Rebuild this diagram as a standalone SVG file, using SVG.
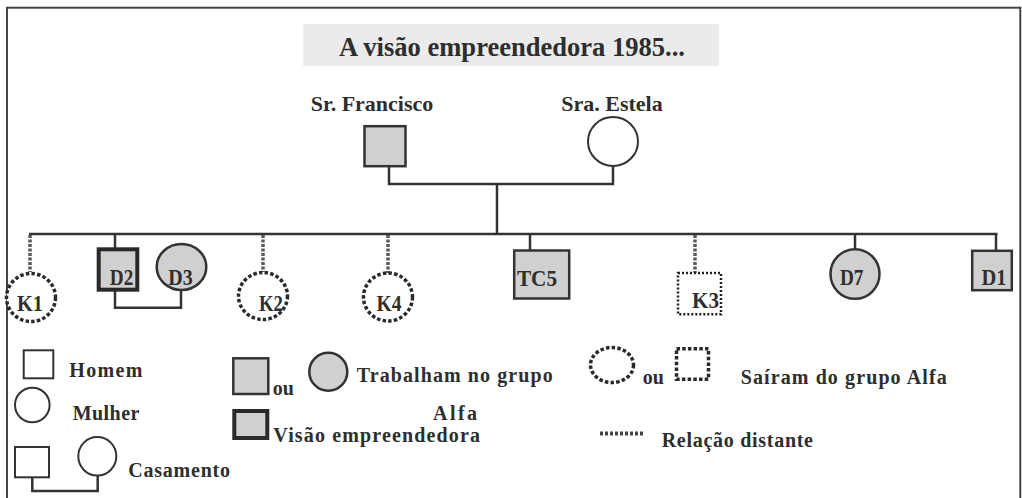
<svg xmlns="http://www.w3.org/2000/svg" width="1022" height="498" viewBox="0 0 1022 498">
<style>
.t{font-family:"Liberation Serif","Times New Roman",serif;font-weight:bold;fill:#2e2e2e}
.lbl{font-size:23px;text-anchor:middle}
.leg{font-size:20px}
.name{font-size:22px;text-anchor:middle}
.g{fill:#d0d0d0;stroke:#333;stroke-width:2.5}
.w{fill:#fff;stroke:#333;stroke-width:2}
.thick{fill:#d0d0d0;stroke:#2a2a2a;stroke-width:4}
.dc{fill:#fff;stroke:#2a2a2a;stroke-width:3.5;stroke-dasharray:3.5 2.2}
.ds{fill:#fff;stroke:#222;stroke-width:2.5;stroke-dasharray:2 2}
.ln{fill:none;stroke:#333;stroke-width:2.5}
.dl{fill:none;stroke:#5a5a5a;stroke-width:3.5;stroke-dasharray:3 1.5}
</style>
<rect x="7" y="7.7" width="1013.3" height="510" fill="#fff" stroke="#444" stroke-width="2"/>
<g id="title">
<rect x="303" y="24" width="416" height="42" fill="#ebebeb"/>
<text class="t" x="512" y="56" font-size="27" text-anchor="middle" textLength="346" lengthAdjust="spacingAndGlyphs">A visão empreendedora 1985...</text>
</g>
<g id="connectors">
<polyline class="ln" points="389,167 389,184 613,184 613,166"/>
<line class="ln" x1="497" y1="184" x2="497" y2="234"/>
<line class="ln" x1="29" y1="234" x2="997.5" y2="234"/>
<line class="dl" x1="30" y1="235" x2="30" y2="272"/>
<line class="ln" x1="115" y1="234" x2="115" y2="248"/>
<line class="dl" x1="263" y1="235" x2="263" y2="272"/>
<line class="dl" x1="388" y1="235" x2="388" y2="273"/>
<line class="ln" x1="530" y1="234" x2="530" y2="250"/>
<line class="dl" x1="695" y1="235" x2="695" y2="273"/>
<line class="ln" x1="855" y1="234" x2="855" y2="249"/>
<line class="ln" x1="996" y1="234" x2="996" y2="250"/>
<polyline class="ln" points="115,291 115,307.7 181,307.7 181,290"/>
</g>
<g id="francisco">
<text class="t name" x="372" y="110.7">Sr. Francisco</text>
<rect class="g" x="364.5" y="126.2" width="41" height="40"/>
</g>
<g id="estela">
<text class="t name" x="612" y="110.7">Sra. Estela</text>
<ellipse class="w" cx="613" cy="141.5" rx="25" ry="24.5" stroke-width="2.5"/>
</g>
<g id="K1">
<ellipse class="dc" cx="31" cy="297.5" rx="24.5" ry="24"/>
<text class="t lbl" x="30" y="311" textLength="26" lengthAdjust="spacingAndGlyphs">K1</text>
</g>
<g id="D2">
<rect class="thick" x="98.7" y="249.3" width="38.6" height="40.4"/>
<text class="t lbl" x="121.5" y="285" textLength="23.5" lengthAdjust="spacingAndGlyphs">D2</text>
</g>
<g id="D3">
<ellipse class="g" cx="181.5" cy="267" rx="24.8" ry="23"/>
<text class="t lbl" x="180.5" y="285" textLength="24.5" lengthAdjust="spacingAndGlyphs">D3</text>
</g>
<g id="K2">
<ellipse class="dc" cx="263" cy="296" rx="24.5" ry="23.5"/>
<text class="t lbl" x="271" y="311" textLength="24" lengthAdjust="spacingAndGlyphs">K2</text>
</g>
<g id="K4">
<ellipse class="dc" cx="388" cy="297" rx="24.5" ry="24"/>
<text class="t lbl" x="389" y="311" textLength="25" lengthAdjust="spacingAndGlyphs">K4</text>
</g>
<g id="TC5">
<rect class="g" x="514.2" y="250.5" width="55" height="48" stroke-width="3"/>
<text class="t lbl" x="537" y="286" textLength="40" lengthAdjust="spacingAndGlyphs">TC5</text>
</g>
<g id="K3">
<rect class="ds" x="678" y="273" width="43" height="41.3"/>
<text class="t lbl" x="705.5" y="308" textLength="27" lengthAdjust="spacingAndGlyphs">K3</text>
</g>
<g id="D7">
<ellipse class="g" cx="855" cy="274" rx="24.5" ry="24.8"/>
<text class="t lbl" x="851.7" y="285" textLength="23.5" lengthAdjust="spacingAndGlyphs">D7</text>
</g>
<g id="D1">
<rect class="g" x="972.2" y="250.8" width="39.6" height="39.4" stroke-width="3"/>
<text class="t lbl" x="994" y="285" textLength="25" lengthAdjust="spacingAndGlyphs">D1</text>
</g>
<g id="legend">
<rect class="w" x="23.7" y="350.3" width="29.6" height="28"/>
<text class="t leg" x="69.3" y="377" textLength="73">Homem</text>
<ellipse class="w" cx="32.3" cy="405" rx="17.3" ry="17.3"/>
<text class="t leg" x="72.7" y="420" textLength="66.7">Mulher</text>
<rect class="w" x="15" y="447" width="34" height="30.3"/>
<ellipse class="w" cx="97.3" cy="456.3" rx="19" ry="19.3"/>
<polyline class="ln" points="32.3,477.3 32.3,491 97.7,491 97.7,475.6" stroke-width="2.2"/>
<text class="t leg" x="128.3" y="476.7" textLength="101.7">Casamento</text>
<rect class="g" x="233.3" y="358.3" width="35" height="35.7" stroke-width="2"/>
<text class="t leg" x="272.7" y="395">ou</text>
<ellipse class="g" cx="328.3" cy="371.7" rx="19" ry="19" stroke-width="2"/>
<text class="t leg" x="356.7" y="381.7" textLength="196">Trabalham no grupo</text>
<text class="t leg" x="433" y="420" textLength="44">Alfa</text>
<rect class="thick" x="234.3" y="411" width="33" height="27"/>
<text class="t leg" x="273.3" y="441.7" textLength="206.7">Visão empreendedora</text>
<ellipse class="dc" cx="612" cy="365" rx="21.5" ry="17.5"/>
<text class="t leg" x="642.7" y="384">ou</text>
<rect class="dc" x="676.5" y="348.8" width="32" height="30.4"/>
<text class="t leg" x="740.7" y="384" textLength="206">Saíram do grupo  Alfa</text>
<line x1="600" y1="433.5" x2="643" y2="433.5" stroke="#444" stroke-width="4" stroke-dasharray="3 2"/>
<text class="t leg" x="661.7" y="446.7" textLength="151.3">Relação distante</text>
</g>
</svg>
